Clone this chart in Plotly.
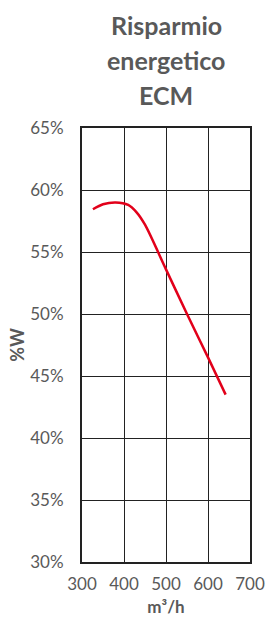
import plotly.graph_objects as go

flow = [326, 350, 380, 410, 430, 450, 500, 550, 600, 642]
saving = [58.45, 58.85, 59.0, 58.8, 58.2, 57.2, 53.6, 50.0, 46.5, 43.5]

title_lines = ["Risparmio", "energetico", "ECM"]
x_title = "m³/h"
y_title = "%W"

fig = go.Figure()
fig.add_trace(go.Scatter(
    x=flow, y=saving, mode="lines",
    line=dict(color="#E2001A", width=2.5, shape="spline", smoothing=0.8),
    hoverinfo="skip", showlegend=False,
))

grey = "#595959"
font_fam = "Lato, 'Open Sans', sans-serif"

title_y = [1.2373, 1.1567, 1.0760]
for txt, yy in zip(title_lines, title_y):
    fig.add_annotation(
        text="<b>" + txt + "</b>", x=0.5, xref="paper", y=yy, yref="paper",
        xanchor="center", yanchor="middle", showarrow=False,
        font=dict(size=25, color=grey, family=font_fam),
    )

fig.update_layout(
    width=270, height=620,
    margin=dict(l=82, r=20, t=128, b=58),
    paper_bgcolor="white", plot_bgcolor="white",
    font=dict(family=font_fam, color=grey),
    xaxis=dict(
        range=[300, 700], dtick=100, tick0=300, automargin=False,
        showgrid=True, gridcolor="#222222", gridwidth=1,
        showline=True, linecolor="#222222", linewidth=2, mirror=True,
        zeroline=False, ticks="", ticklabelstandoff=6,
        tickfont=dict(size=17, color=grey),
        title=dict(text="<b>" + x_title + "</b>", font=dict(size=17, color=grey), standoff=8),
    ),
    yaxis=dict(
        range=[30, 65], dtick=5, tick0=30, automargin=False,
        ticksuffix="%",
        showgrid=True, gridcolor="#222222", gridwidth=1,
        showline=True, linecolor="#222222", linewidth=2, mirror=True,
        zeroline=False, ticks="", ticklabelstandoff=13,
        tickfont=dict(size=17, color=grey),
        title=dict(text="<b>" + y_title + "</b>", font=dict(size=18, color=grey), standoff=1),
    ),
)

fig.write_html(
    "out.html",
    config={"displayModeBar": False},
    post_script="document.body.style.margin='0';document.body.style.overflow='hidden';",
)
